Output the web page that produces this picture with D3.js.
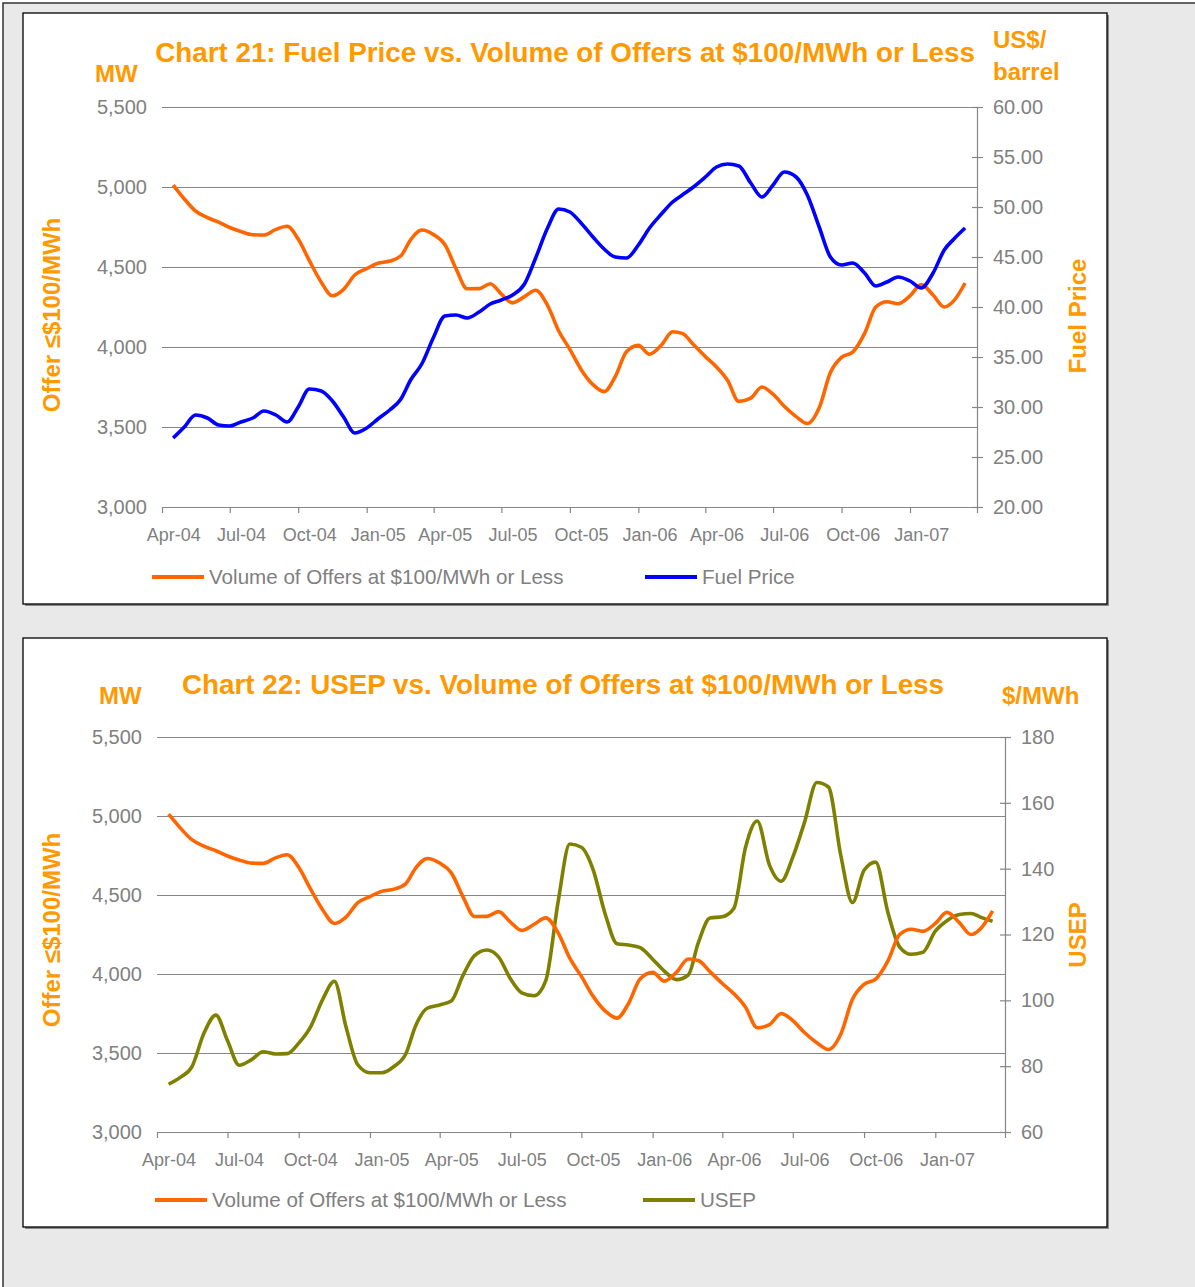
<!DOCTYPE html>
<html>
<head>
<meta charset="utf-8">
<script src="https://cdnjs.cloudflare.com/ajax/libs/d3/7.8.5/d3.min.js"></script>
<style>
  body { margin: 0; background: #fff; }
  svg { display: block; font-family: "Liberation Sans", Arial, sans-serif; }
</style>
</head>
<body>
<svg id="charts" width="1195" height="1287"></svg>
<script>
// semi-monthly readings, mid-Apr 2004 .. mid-Mar 2007
var dates = [
  "2004-04-16","2004-05-01","2004-05-16","2004-06-01","2004-06-16","2004-07-01","2004-07-16","2004-08-01","2004-08-16",
  "2004-09-01","2004-09-16","2004-10-01","2004-10-16","2004-11-01","2004-11-16","2004-12-01","2004-12-16",
  "2005-01-01","2005-01-16","2005-02-01","2005-02-16","2005-03-01","2005-03-16","2005-04-01","2005-04-16",
  "2005-05-01","2005-05-16","2005-06-01","2005-06-16","2005-07-01","2005-07-16","2005-08-01","2005-08-16",
  "2005-09-01","2005-09-16","2005-10-01","2005-10-16","2005-11-01","2005-11-16","2005-12-01","2005-12-16",
  "2006-01-01","2006-01-16","2006-02-01","2006-02-16","2006-03-01","2006-03-16","2006-04-01","2006-04-16",
  "2006-05-01","2006-05-16","2006-06-01","2006-06-16","2006-07-01","2006-07-16","2006-08-01","2006-08-16",
  "2006-09-01","2006-09-16","2006-10-01","2006-10-16","2006-11-01","2006-11-16","2006-12-01","2006-12-16",
  "2007-01-01","2007-01-16","2007-02-01","2007-02-16","2007-03-01","2007-03-16"
];

// Volume of Offers at $100/MWh or Less (MW)
var offerMW = [5012, 4925, 4850, 4808, 4780, 4747, 4722, 4702, 4700, 4735, 4755, 4675, 4540, 4405, 4320, 4360, 4450,
  4490, 4523, 4537, 4570, 4670, 4731, 4702, 4640, 4490, 4364, 4365, 4395, 4330, 4276, 4315, 4355, 4260, 4100, 3985,
  3860, 3765, 3721, 3815, 3970, 4010, 3955, 4012, 4095, 4085, 4015, 3940, 3875, 3790, 3660, 3680, 3750, 3705, 3630,
  3565, 3522, 3620, 3840, 3935, 3968, 4085, 4250, 4283, 4270, 4320, 4390, 4325, 4250, 4290, 4400];

// Fuel Price (US$/barrel)
var fuelPrice = [26.9, 28.0, 29.2, 28.9, 28.2, 28.1, 28.5, 28.9, 29.6, 29.2, 28.5, 30.0, 31.8, 31.6, 30.6, 29.0, 27.4,
  27.9, 28.8, 29.7, 30.8, 32.7, 34.3, 37.0, 39.1, 39.2, 38.9, 39.5, 40.3, 40.7, 41.2, 42.3, 44.9, 47.9, 49.8, 49.5,
  48.4, 47.0, 45.8, 45.0, 44.9, 46.2, 47.9, 49.3, 50.5, 51.2, 52.0, 53.0, 54.0, 54.3, 54.1, 52.4, 51.0, 52.2, 53.5,
  53.0, 51.2, 48.0, 45.0, 44.2, 44.4, 43.4, 42.1, 42.5, 43.0, 42.6, 41.9, 43.4, 45.7, 46.8, 47.9];

// USEP ($/MWh)
var usep = [74.5, 76.6, 79.8, 90.2, 95.5, 87.8, 80.3, 82.0, 84.4, 83.7, 83.8, 87.0, 91.8, 100.3, 105.8, 92.0, 80.5,
  78.0, 78.0, 79.9, 83.6, 92.3, 97.6, 98.6, 99.8, 107.5, 113.6, 115.3, 113.2, 106.7, 102.3, 101.4, 106.0, 130.0, 147.5,
  146.5, 139.8, 126.0, 117.2, 116.8, 116.0, 112.5, 108.9, 106.3, 107.7, 117.5, 125.0, 125.4, 128.0, 146.5, 154.5,
  141.0, 136.2, 143.5, 154.0, 166.2, 164.8, 144.0, 129.7, 139.5, 142.0, 126.5, 116.2, 114.0, 114.6, 121.0, 124.2,
  126.1, 126.4, 125.2, 124.0];

var xLabels = ["Apr-04", "Jul-04", "Oct-04", "Jan-05", "Apr-05", "Jul-05", "Oct-05", "Jan-06", "Apr-06", "Jul-06", "Oct-06", "Jan-07"];
var offerTicks = [3000, 3500, 4000, 4500, 5000, 5500];
var fuelTicks = [20, 25, 30, 35, 40, 45, 50, 55, 60];
var usepTicks = [60, 80, 100, 120, 140, 160, 180];

var parse = d3.timeParse("%Y-%m-%d");
var when = dates.map(parse);
var axisStart = parse("2004-04-01"), axisEnd = parse("2007-04-01");
var quarterTicks = d3.timeMonth.every(3).range(axisStart, d3.timeDay.offset(axisEnd, 1));
var labelDates = quarterTicks.slice(0, xLabels.length).map(function (d) { return d3.timeDay.offset(d, 15); });

var ORANGE = "#FF6600", TITLE = "#FF9900", GRID = "#868686", TEXT = "#808080";

var svg = d3.select("#charts");

// grey sheet with frame
svg.append("rect").attr("x", 3).attr("y", 3).attr("width", 1300).attr("height", 1400)
  .attr("fill", "#e9e9e9").attr("stroke", "#333").attr("stroke-width", 1.5);

function drawChart(o) {
  var g = svg.append("g");

  // panel
  g.append("rect").attr("x", o.box[0] + 2).attr("y", o.box[1] + 2).attr("width", o.box[2]).attr("height", o.box[3]).attr("fill", "#8a8a8a");
  g.append("rect").attr("x", o.box[0]).attr("y", o.box[1]).attr("width", o.box[2]).attr("height", o.box[3])
    .attr("fill", "#fff").attr("stroke", "#000").attr("stroke-width", 1.3);

  var x = d3.scaleTime().domain([axisStart, axisEnd]).range([o.left, o.right]);
  var yL = d3.scaleLinear().domain([3000, 5500]).range([o.bottom, o.top]);
  var yR = d3.scaleLinear().domain(o.rDomain).range([o.bottom, o.top]);

  // gridlines
  g.append("g").attr("transform", "translate(" + o.left + ",0)")
    .call(d3.axisLeft(yL).tickValues(offerTicks).tickSize(-(o.right - o.left)).tickFormat(""))
    .call(function (s) { s.select(".domain").remove(); })
    .selectAll("line").attr("stroke", GRID).attr("stroke-width", 1.2);

  // left labels
  var la = g.append("g").attr("transform", "translate(" + o.left + ",0)")
    .call(d3.axisLeft(yL).tickValues(offerTicks).tickSize(0).tickPadding(15).tickFormat(d3.format(",")));
  la.select(".domain").remove();
  la.selectAll("text").attr("fill", TEXT).style("font-size", "20px").style("font-family", "inherit");

  // right axis
  var ra = g.append("g").attr("transform", "translate(" + o.right + ",0)")
    .call(d3.axisRight(yR).tickValues(o.rTicks).tickSizeInner(6).tickSizeOuter(0).tickPadding(10).tickFormat(o.rFormat));
  ra.select(".domain").attr("stroke", GRID).attr("stroke-width", 1.2);
  ra.selectAll("line").attr("x1", -5).attr("stroke", GRID).attr("stroke-width", 1.2);
  ra.selectAll("text").attr("fill", TEXT).style("font-size", "20px").style("font-family", "inherit");

  // bottom axis: ticks at quarter boundaries, labels mid-month
  var ba = g.append("g").attr("transform", "translate(0," + o.bottom + ")")
    .call(d3.axisBottom(x).tickValues(quarterTicks).tickSizeInner(6).tickSizeOuter(0).tickFormat(""));
  ba.select(".domain").attr("stroke", GRID).attr("stroke-width", 1.2);
  ba.selectAll("line").attr("stroke", GRID).attr("stroke-width", 1.2);
  var bl = g.append("g").attr("transform", "translate(0," + o.bottom + ")")
    .call(d3.axisBottom(x).tickValues(labelDates).tickSize(0).tickPadding(21)
      .tickFormat(function (d, i) { return xLabels[i]; }));
  bl.select(".domain").remove();
  bl.selectAll("text").attr("fill", TEXT).style("font-size", "18px").style("font-family", "inherit");

  // series
  var lineL = d3.line().x(function (d, i) { return x(when[i]); }).y(function (d) { return yL(d); }).curve(d3.curveMonotoneX);
  var lineR = d3.line().x(function (d, i) { return x(when[i]); }).y(function (d) { return yR(d); }).curve(d3.curveMonotoneX);
  var series = [{ vals: offerMW, line: lineL, color: ORANGE }, { vals: o.rValues, line: lineR, color: o.rColor }];
  if (o.rFirst) series.reverse();
  series.forEach(function (s) {
    g.append("path").datum(s.vals).attr("d", s.line).attr("fill", "none")
      .attr("stroke", s.color).attr("stroke-width", 3.6).attr("stroke-linejoin", "round");
  });

  // titles
  g.append("text").attr("x", o.titleX).attr("y", o.titleY).attr("text-anchor", "middle")
    .attr("fill", TITLE).style("font-size", "27.8px").style("font-weight", "bold").text(o.title);
  g.append("text").attr("x", o.mwX).attr("y", o.mwY).attr("fill", TITLE)
    .style("font-size", "24px").style("font-weight", "bold").text("MW");
  o.unit.forEach(function (u, i) {
    g.append("text").attr("x", o.unitX).attr("y", o.unitY[i]).attr("fill", TITLE)
      .style("font-size", "24px").style("font-weight", "bold").text(u);
  });
  g.append("text").attr("transform", "translate(60," + o.lTitleY + ") rotate(-90)").attr("text-anchor", "middle")
    .attr("fill", TITLE).style("font-size", "24px").style("font-weight", "bold").text("Offer \u2264$100/MWh");
  g.append("text").attr("transform", "translate(1086," + o.rTitleY + ") rotate(-90)").attr("text-anchor", "middle")
    .attr("fill", TITLE).style("font-size", "24px").style("font-weight", "bold").text(o.rTitle);

  // legend
  var leg = [{ x: o.legX[0], color: ORANGE, name: "Volume of Offers at $100/MWh or Less" },
             { x: o.legX[1], color: o.rColor, name: o.rName }];
  leg.forEach(function (l) {
    g.append("line").attr("x1", l.x).attr("x2", l.x + 52).attr("y1", o.legY).attr("y2", o.legY)
      .attr("stroke", l.color).attr("stroke-width", 4);
    g.append("text").attr("x", l.x + 57).attr("y", o.legY).attr("dy", "0.35em").attr("fill", TEXT)
      .style("font-size", "20.6px").text(l.name);
  });
}

drawChart({
  box: [23, 13, 1084, 591],
  left: 162, right: 977, top: 107, bottom: 507,
  rDomain: [20, 60], rTicks: fuelTicks, rFormat: d3.format(".2f"),
  rValues: fuelPrice, rColor: "#0000FF", rName: "Fuel Price", rTitle: "Fuel Price",
  title: "Chart 21: Fuel Price vs. Volume of Offers at $100/MWh or Less", titleX: 565, titleY: 62,
  mwX: 95, mwY: 82, unit: ["US$/", "barrel"], unitX: 993, unitY: [48, 80],
  lTitleY: 315, rTitleY: 316,
  legX: [152, 645], legY: 577
});

drawChart({
  box: [23, 638, 1084, 589],
  left: 157, right: 1005, top: 737, bottom: 1132,
  rDomain: [60, 180], rTicks: usepTicks, rFormat: d3.format("d"),
  rValues: usep, rColor: "#808000", rName: "USEP", rTitle: "USEP", rFirst: true,
  title: "Chart 22: USEP vs. Volume of Offers at $100/MWh or Less", titleX: 563, titleY: 694,
  mwX: 99, mwY: 704, unit: ["$/MWh"], unitX: 1002, unitY: [704],
  lTitleY: 930, rTitleY: 935,
  legX: [155, 643], legY: 1200
});
</script>
</body>
</html>
